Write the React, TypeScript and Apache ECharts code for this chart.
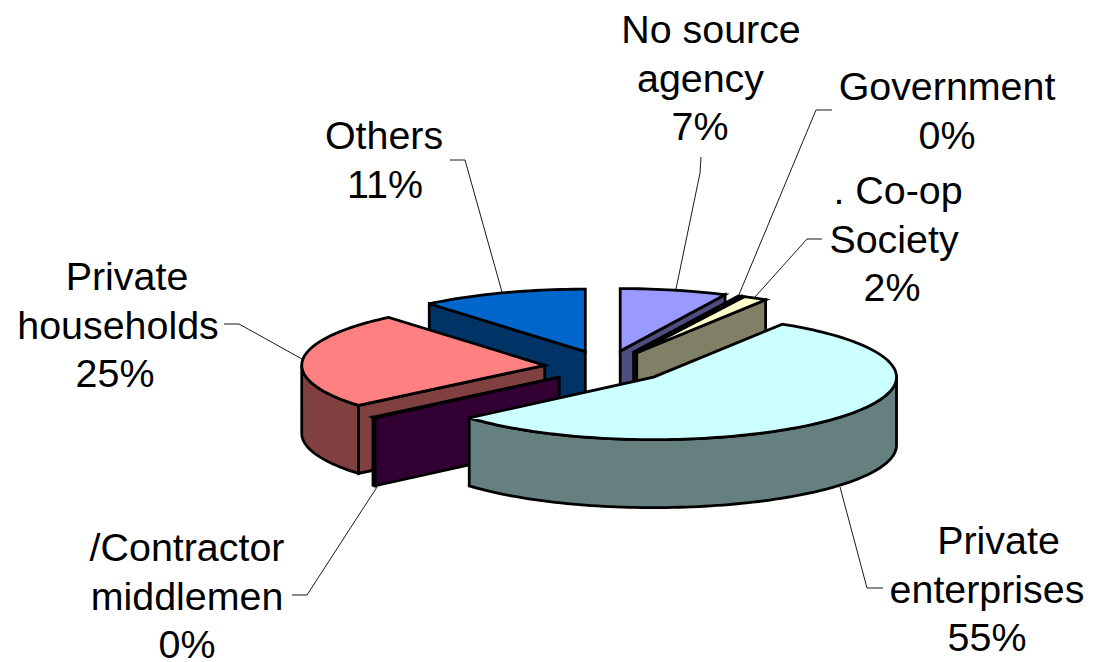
import React, { useEffect, useRef } from "react";
import * as echarts from "echarts";

const categories = ["No source agency", "Government", "Co-op Society", "Private enterprises", "/Contractor middlemen", "Private households", "Others"];
const shares = [7.1, 0.2, 1.6, 54.8, 0.2, 25, 11.1];
const topColors = ["#9999FF", "#993366", "#FFFFCC", "#CCFFFF", "#660066", "#FF8080", "#0066CC"];
const wallColors = ["#4D4D80", "#4D1A33", "#808066", "#668080", "#330033", "#804040", "#003366"];
// painter's order, back to front
const drawOrder = [6, 0, 1, 2, 5, 4, 3];

const labelLines = [
  ["No source", "agency", "7%"],
  ["Government", "0%"],
  [". Co-op", "Society", "2%"],
  ["Private", "enterprises", "55%"],
  ["/Contractor", "middlemen", "0%"],
  ["Private", "households", "25%"],
  ["Others", "11%"],
];
const labelCenters = [
  [711, 700.5, 700],
  [947, 947],
  [898, 894, 892],
  [998.5, 987, 987],
  [187, 187, 187],
  [127, 118, 115],
  [384, 385],
];
const labelTops = [29, 86, 190, 540, 547, 276, 135];
const LINE_STEP = 48.5;
const leaders = [
  [[701, 157], [700, 173], [676, 289]],
  [[832, 110], [816, 110], [738, 297]],
  [[822, 239], [807, 239], [755, 297]],
  [[883, 588], [867, 588], [840, 487]],
  [[292, 595], [307, 595], [377, 487]],
  [[224, 324], [239, 324], [302, 359]],
  [[450, 160], [465, 160], [502, 292]],
];

const CX = 606.5, CY = 366.7, RX = 243, RY = 62.5, EX = 62, EY = 16, DEPTH = 68;
const rad = (d: number) => (d * Math.PI) / 180;
const total = shares.reduce((a, b) => a + b, 0);
const starts: number[] = [];
shares.reduce((acc, v, i) => { starts[i] = acc; return acc + v; }, 0);

function slicePolys(i: number) {
  const a0 = (starts[i] / total) * 360;
  const a1 = ((starts[i] + shares[i]) / total) * 360;
  const mid = rad((a0 + a1) / 2);
  const ox = CX + EX * Math.sin(mid);
  const oy = CY - EY * Math.cos(mid);
  const rim = (deg: number, dz = 0): number[] => [ox + RX * Math.sin(rad(deg)), oy - RY * Math.cos(rad(deg)) + dz];
  const arc = (from: number, to: number, dz = 0) => {
    const n = Math.max(2, Math.ceil(Math.abs(to - from) / 1.5));
    const pts: number[][] = [];
    for (let k = 0; k <= n; k++) pts.push(rim(from + ((to - from) * k) / n, dz));
    return pts;
  };
  const apex = [ox, oy];
  const apexB = [ox, oy + DEPTH];
  const walls: number[][][] = [];
  if (Math.sin(rad(a0)) < -1e-6) walls.push([apex, rim(a0), rim(a0, DEPTH), apexB]);
  if (Math.sin(rad(a1)) > 1e-6) walls.push([apex, rim(a1), rim(a1, DEPTH), apexB]);
  const f0 = Math.max(a0, 90), f1 = Math.min(a1, 270);
  if (f1 > f0) walls.push([...arc(f0, f1), ...arc(f1, f0, DEPTH)]);
  const top = [apex, ...arc(a0, a1)];
  return { walls, top };
}

const LINE_W = 2.8;
function renderItem(_: any, api: any) {
  const i = api.value(0) as number;
  const { walls, top } = slicePolys(i);
  const edge = { stroke: "#000", lineWidth: LINE_W, lineJoin: "miter", miterLimit: 4 };
  return {
    type: "group",
    children: [
      ...walls.map((points) => ({ type: "polygon", shape: { points }, style: { fill: wallColors[i], ...edge } })),
      { type: "polygon", shape: { points: top }, style: { fill: topColors[i], ...edge } },
    ],
  };
}

const FONT = '39.4px "Liberation Sans", Arial, sans-serif';

export default function App() {
  const ref = useRef<HTMLDivElement>(null);
  useEffect(() => {
    document.body.style.margin = "0";
    document.body.style.background = "#fff";
    const chart = echarts.init(ref.current!, undefined, { renderer: "svg" });
    const graphics: any[] = [];
    leaders.forEach((points) => {
      graphics.push({ type: "polyline", shape: { points }, style: { stroke: "#1a1a1a", lineWidth: 1, fill: "none" }, silent: true });
    });
    labelLines.forEach((lines, i) => {
      lines.forEach((text, j) => {
        graphics.push({
          type: "text",
          style: {
            text,
            x: labelCenters[i][j],
            y: labelTops[i] + j * LINE_STEP,
            fill: "#000",
            font: FONT,
            align: "center",
            verticalAlign: "middle",
          },
          silent: true,
        });
      });
    });
    chart.setOption({
      animation: false,
      backgroundColor: "#fff",
      series: [
        {
          type: "custom",
          name: "Source",
          coordinateSystem: "none",
          renderItem,
          silent: true,
          data: drawOrder.map((i) => ({ name: categories[i], value: [i, shares[i]] })),
        },
      ],
      graphic: graphics,
    });
    return () => chart.dispose();
  }, []);
  return <div ref={ref} style={{ position: "absolute", left: 0, top: 0, width: 1093, height: 662 }} />;
}
